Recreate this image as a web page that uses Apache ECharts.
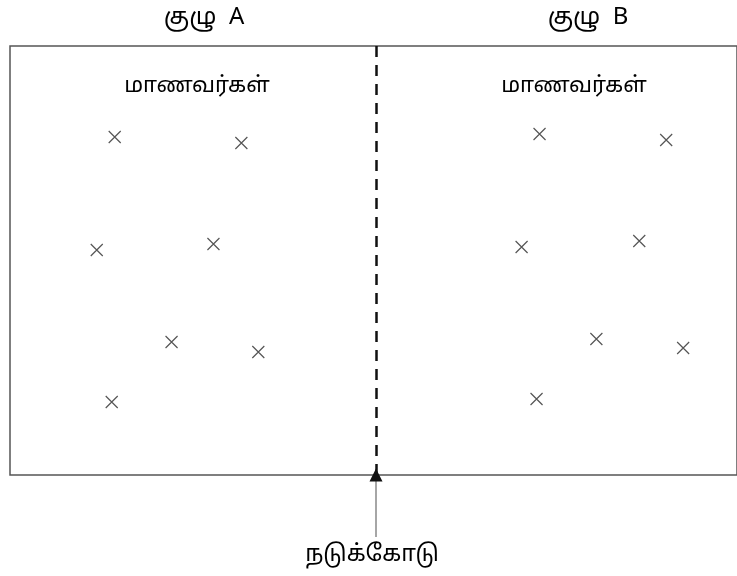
<!DOCTYPE html>
<html><head><meta charset="utf-8">
<script src="https://cdn.jsdelivr.net/npm/echarts@6/dist/echarts.min.js"></script>
<style>html,body{margin:0;padding:0;background:#fff}#c{width:737px;height:576px}</style>
</head><body><div id="c"></div>
<script>
const groupTitles = ['குழு  A', 'குழு  B'];
const boxLabel = 'மாணவர்கள்';
const midLabel = 'நடுக்கோடு';
const midlineX = 367;
const groupA = [[105,338],[232,332],[87,225],[204,231],[162,133],[249,123],[102,73]];
const groupB = [[531,341],[658,335],[513,228],[631,234],[588,136],[675,127],[528,76]];
const arrowLine = [[367,-62],[367,0]];
const arrowHead = [[367,-4],[367,0]];

const FONT = '"Noto Sans", "Noto Sans Tamil", "Lohit Tamil", sans-serif';
const chart = echarts.init(document.getElementById('c'), null, {renderer:'canvas'});
const crossStyle = {color:'rgba(0,0,0,0)', borderColor:'#2a2a2a', borderWidth:1.2};
const ts = (s) => ({fontFamily:FONT, fontSize:s, fontWeight:'normal', color:'#000'});
chart.setOption({
  animation:false,
  backgroundColor:'#fff',
  title:[
    {text:groupTitles[0], left:199, top:0, textAlign:'center', textStyle:ts(24)},
    {text:groupTitles[1], left:583, top:0, textAlign:'center', textStyle:ts(24)},
    {text:boxLabel, left:192, top:70, textAlign:'center', textStyle:ts(22)},
    {text:boxLabel, left:569, top:70, textAlign:'center', textStyle:ts(22)},
    {text:midLabel, left:367, top:538, textAlign:'center', textStyle:ts(23)}
  ],
  grid:{left:10, top:46, right:-2, bottom:101, show:true, borderColor:'#555', borderWidth:1.5, backgroundColor:'transparent'},
  xAxis:{type:'value', min:0, max:729, show:false},
  yAxis:{type:'value', min:0, max:429, show:false},
  series:[
    {type:'scatter', data:groupA, symbol:'path://M0,0L10,10M10,0L0,10', symbolSize:12, itemStyle:crossStyle,
     markLine:{silent:true, symbol:'none', label:{show:false}, lineStyle:{type:[11,8], color:'#111', width:2.5}, data:[{xAxis:midlineX}]}},
    {type:'scatter', data:groupB, symbol:'path://M0,0L10,10M10,0L0,10', symbolSize:12, itemStyle:crossStyle},
    {type:'lines', coordinateSystem:'cartesian2d', clip:false, data:[{coords:arrowLine}],
     symbol:'none', lineStyle:{color:'#888', width:1.5, opacity:1}},
    {type:'lines', coordinateSystem:'cartesian2d', clip:false, data:[{coords:arrowHead}],
     symbol:['none','triangle'], symbolSize:[0,13], lineStyle:{color:'#111', width:1.5, opacity:1}}
  ]
});
</script></body></html>
